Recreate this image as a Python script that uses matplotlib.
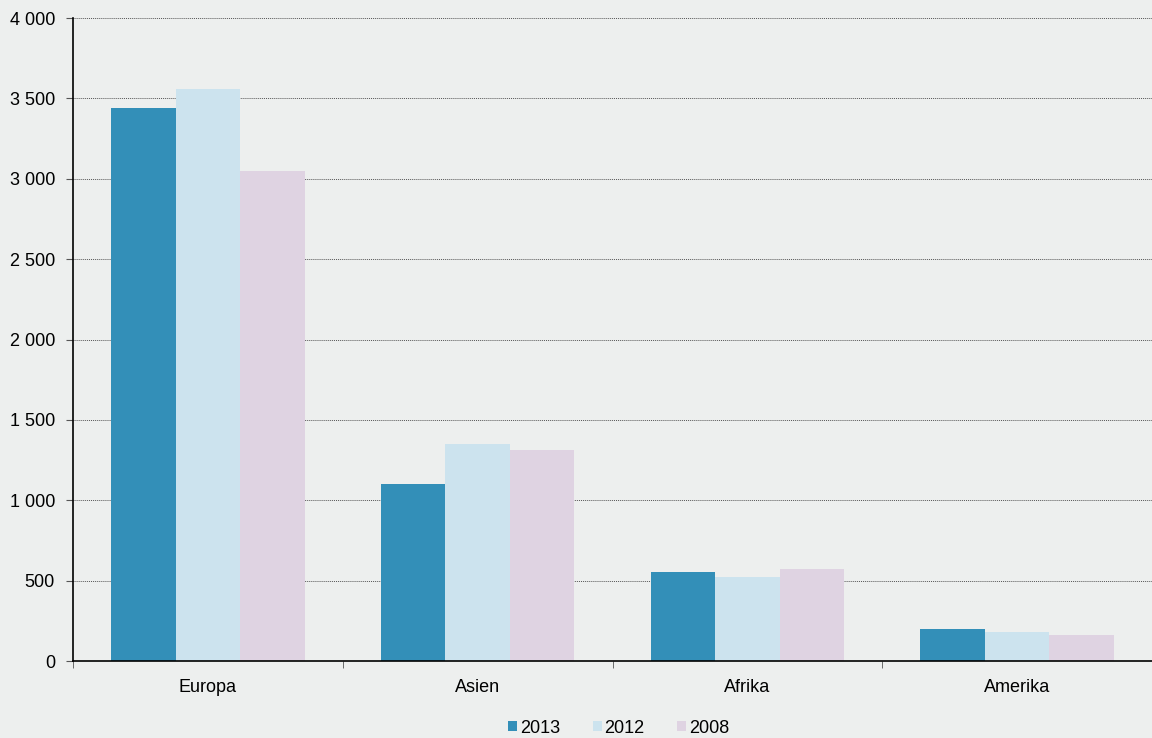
import numpy as np
import matplotlib.pyplot as plt
from matplotlib.ticker import FuncFormatter

plt.rcParams['font.family'] = ['Liberation Sans', 'DejaVu Sans']

regions = ['Europa', 'Asien', 'Afrika', 'Amerika']
years = ['2013', '2012', '2008']
values = {
    '2013': [3440, 1101, 554, 199],
    '2012': [3558, 1350, 523, 180],
    '2008': [3048, 1313, 572, 162],
}
colors = {'2013': '#338fb8', '2012': '#cce3ee', '2008': '#dfd3e2'}

bg = '#edefee'
fig = plt.figure(figsize=(11.52, 7.38), dpi=100, facecolor=bg)
ax = fig.add_axes([0.0634, 0.1043, 0.9366, 0.8713], facecolor=bg)

x = np.arange(len(regions))
w = 0.239
for i, yr in enumerate(years):
    ax.bar(x + (i - 1) * w, values[yr], w, color=colors[yr], label=yr, zorder=2)

ax.set_xlim(-0.5, len(regions) - 0.5)
ax.set_ylim(0, 4000)
ax.set_yticks(np.arange(0, 4001, 500))
ax.yaxis.set_major_formatter(FuncFormatter(lambda v, p: f'{int(v):,}'.replace(',', ' ')))
ax.grid(axis='y', color='#555555', linestyle=(0, (1, 1)), linewidth=0.7, zorder=1)

ax.set_xticks(x)
ax.set_xticklabels(regions)
ax.set_xticks(np.arange(-0.5, len(regions), 1), minor=True)
ax.tick_params(axis='x', which='major', length=0, pad=13, labelsize=13)
ax.tick_params(axis='x', which='minor', length=5, direction='out', color='#555555')
ax.tick_params(axis='y', length=5, color='#555555', labelsize=13, pad=8)

for s in ['top', 'right']:
    ax.spines[s].set_visible(False)
ax.spines['left'].set_linewidth(1.2)
ax.spines['bottom'].set_linewidth(1.2)

fig.legend(loc='lower center', bbox_to_anchor=(0.537, -0.02), ncol=3, frameon=False,
           fontsize=13, handlelength=0.5, handleheight=0.5, handletextpad=0.15,
           columnspacing=1.8)

fig.savefig('out.png', dpi=100, facecolor=bg)
